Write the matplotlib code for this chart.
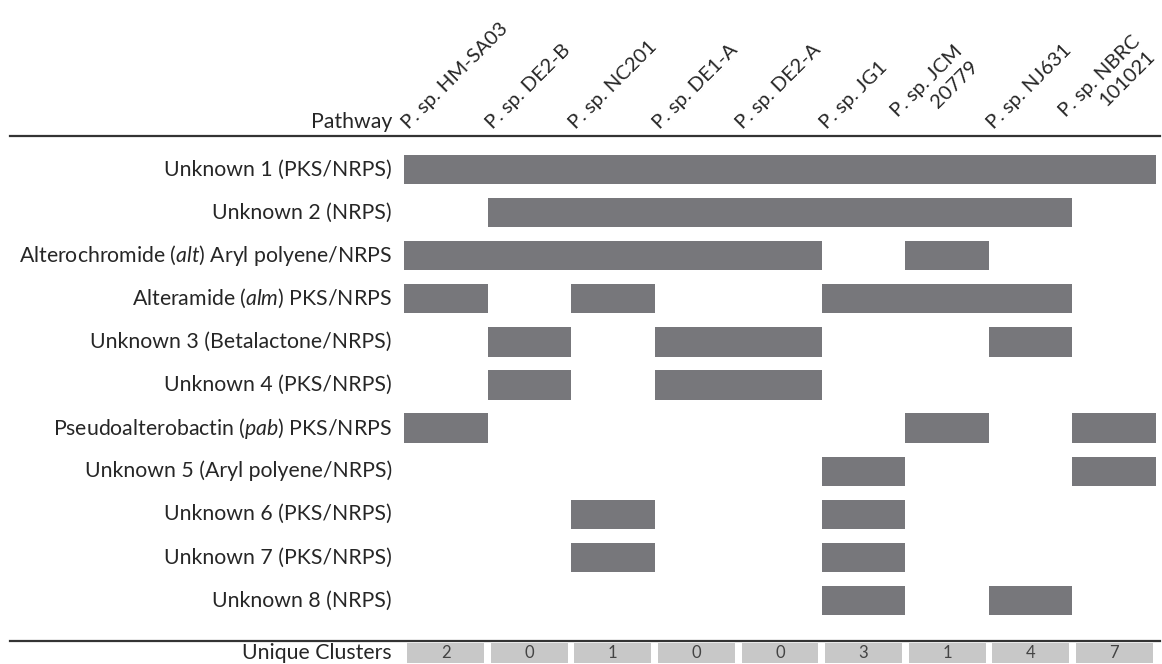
import numpy as np
import matplotlib.pyplot as plt
import matplotlib.transforms as mtransforms
from matplotlib.lines import Line2D

plt.rcParams['font.family'] = ['Lato', 'DejaVu Sans']
plt.rcParams['mathtext.fontset'] = 'custom'
plt.rcParams['mathtext.rm'] = 'Lato'
plt.rcParams['mathtext.it'] = 'Lato:italic'

# data
strains = ['P. sp. HM-SA03', 'P. sp. DE2-B', 'P. sp. NC201', 'P. sp. DE1-A',
           'P. sp. DE2-A', 'P. sp. JG1', 'P. sp. JCM\n20779', 'P. sp. NJ631',
           'P. sp. NBRC\n101021']
pathways = ['Unknown 1 (PKS/NRPS)',
            'Unknown 2 (NRPS)',
            r'Alterochromide ($\it{alt}$) Aryl polyene/NRPS',
            r'Alteramide ($\it{alm}$) PKS/NRPS',
            'Unknown 3 (Betalactone/NRPS)',
            'Unknown 4 (PKS/NRPS)',
            r'Pseudoalterobactin ($\it{pab}$) PKS/NRPS',
            'Unknown 5 (Aryl polyene/NRPS)',
            'Unknown 6 (PKS/NRPS)',
            'Unknown 7 (PKS/NRPS)',
            'Unknown 8 (NRPS)']
presence = np.array([
    [1, 1, 1, 1, 1, 1, 1, 1, 1],
    [0, 1, 1, 1, 1, 1, 1, 1, 0],
    [1, 1, 1, 1, 1, 0, 1, 0, 0],
    [1, 0, 1, 0, 0, 1, 1, 1, 0],
    [0, 1, 0, 1, 1, 0, 0, 1, 0],
    [0, 1, 0, 1, 1, 0, 0, 0, 0],
    [1, 0, 0, 0, 0, 0, 1, 0, 1],
    [0, 0, 0, 0, 0, 1, 0, 0, 1],
    [0, 0, 1, 0, 0, 1, 0, 0, 0],
    [0, 0, 1, 0, 0, 1, 0, 0, 0],
    [0, 0, 0, 0, 0, 1, 0, 1, 0],
])
unique_clusters = [2, 0, 1, 0, 0, 3, 1, 4, 7]

# layout (pixels)
W, H = 1162, 664
ax_left, ax_right, ax_top = 404, 1156, 136
row0, row_step = 169.5, 43.1
fs = 15.3

fig = plt.figure(figsize=(W / 100, H / 100), dpi=100)
ax = fig.add_axes([ax_left / W, 0, (ax_right - ax_left) / W, (H - ax_top) / H])
ax.set_xlim(0, len(strains))
ytop = -(row0 - ax_top) / row_step
ax.set_ylim(ytop + (H - ax_top) / row_step, ytop)
ax.axis('off')

bar_color = '#77777b'
text_color = '#262626'

# presence bars, merging consecutive columns into one block
for i, row in enumerate(presence):
    j = 0
    while j < len(row):
        if row[j]:
            k = j
            while k < len(row) and row[k]:
                k += 1
            ax.barh(i, k - j, left=j, height=0.68, color=bar_color, linewidth=0)
            j = k
        else:
            j += 1

# row labels
lab_tr = mtransforms.blended_transform_factory(fig.transFigure, ax.transData)
for i, name in enumerate(pathways):
    ax.text(392 / W, i, name, transform=lab_tr, ha='right', va='center',
            fontsize=fs, color=text_color)

# header
y_line_top = ytop
y_line_bot = (641 - row0) / row_step
for yl in (y_line_top, y_line_bot):
    fig.add_artist(Line2D([10 / W, 1160 / W], [yl, yl], transform=lab_tr,
                          color='#333333', lw=1.6))
ax.text(392 / W, (122 - row0) / row_step, 'Pathway', transform=lab_tr,
        ha='right', va='center', fontsize=fs, color=text_color)
for j, s in enumerate(strains):
    ax.text(j + 0.06, (130 - row0) / row_step, s, rotation=45,
            rotation_mode='anchor', ha='left', va='baseline',
            multialignment='right', fontsize=14.5, color=text_color,
            linespacing=1.3)

# unique clusters row
y_uc = (653 - row0) / row_step
ax.text(392 / W, y_uc, 'Unique Clusters', transform=lab_tr, ha='right',
        va='center', fontsize=fs, color=text_color)
ax.bar(np.arange(len(strains)) + 0.5, 0.48, bottom=y_uc - 0.24, width=0.92,
       color='#c8c8c8', linewidth=0)
for j, v in enumerate(unique_clusters):
    ax.text(j + 0.5, y_uc, str(v), ha='center', va='center', fontsize=12,
            color='#444444')

fig.savefig('out.png', dpi=100)
